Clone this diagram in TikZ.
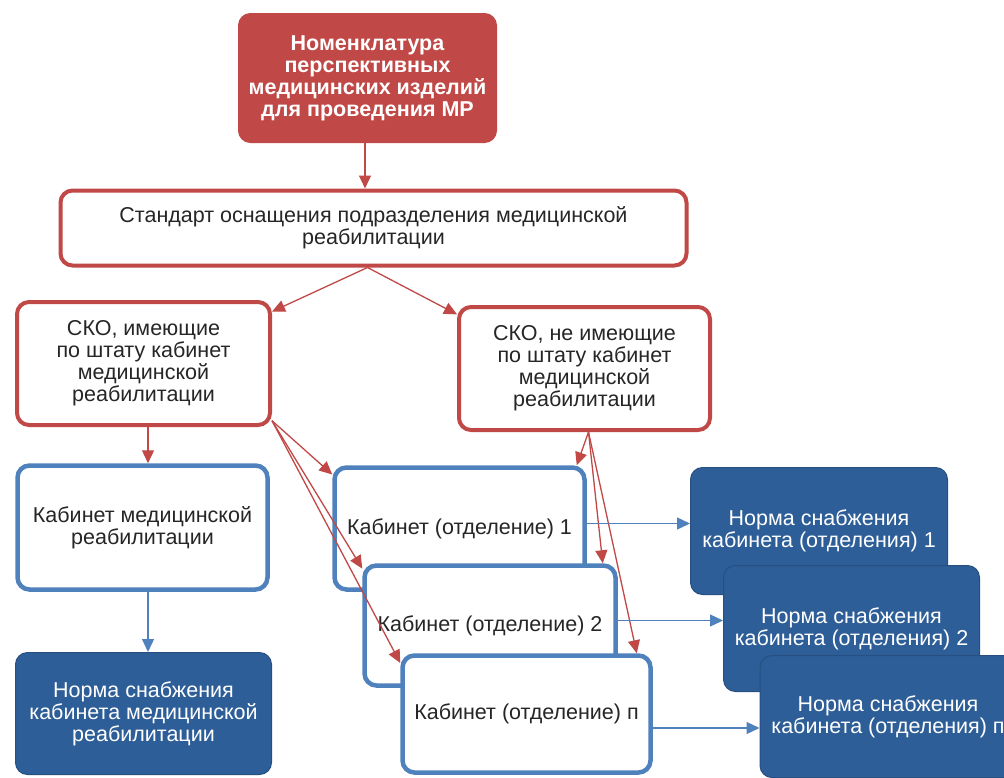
\documentclass[tikz,border=0pt]{standalone}
\usepackage{fontspec}
\setmainfont{Liberation Sans}
\usetikzlibrary{arrows.meta}
\definecolor{mrred}{RGB}{192,72,70}
\definecolor{mrblue}{RGB}{79,129,189}
\definecolor{mrnavy}{RGB}{46,94,152}
\definecolor{mrtext}{RGB}{38,38,38}
\begin{document}
\begin{tikzpicture}[
  x=1pt, y=-1pt,
  box/.style={rectangle,rounded corners=12pt,align=center,inner sep=3pt,
    font=\fontsize{21.5}{22}\selectfont,text=mrtext},
  redfill/.style={box,draw=mrred,fill=mrred,line width=1pt,text=white,
    font=\fontsize{21.5}{22}\selectfont\bfseries},
  redbox/.style={box,draw=mrred,fill=white,line width=4pt},
  bluebox/.style={box,draw=mrblue,fill=white,line width=4.5pt},
  navybox/.style={box,draw=mrnavy!85!black,fill=mrnavy,line width=1pt,text=white},
  redarr/.style={draw=mrred,line width=1.3pt,-{Triangle[length=13pt,width=12pt]}},
  bluearr/.style={draw=mrblue,line width=1.3pt,-{Triangle[length=13pt,width=12pt]}}
]
  \clip (0,0) rectangle (1004,777);

  \node[redfill,minimum width=258pt,minimum height=129pt] (nom) at (367.5,78)
    {Номенклатура\\перспективных\\медицинских изделий\\для проведения МР};
  \node[redbox,minimum width=626pt,minimum height=75pt] (std) at (373.5,228)
    {Стандарт оснащения подразделения медицинской\\реабилитации};
  \node[redbox,minimum width=253pt,minimum height=123pt] (skoA) at (143.5,363.5)
    {СКО, имеющие\\по штату кабинет\\медицинской\\реабилитации};
  \node[redbox,minimum width=251pt,minimum height=123pt] (skoB) at (584.5,368.5)
    {СКО, не имеющие\\по штату кабинет\\медицинской\\реабилитации};

  \node[bluebox,minimum width=250pt,minimum height=124pt] (kabM) at (142.5,527.5)
    {Кабинет медицинской\\реабилитации};
  \node[navybox,minimum width=256pt,minimum height=122pt] (normM) at (143.5,713.5)
    {Норма снабжения\\кабинета медицинской\\реабилитации};

  \node[bluebox,minimum width=250pt,minimum height=122pt] (kab1) at (459.5,528.5) {Кабинет (отделение) 1};
  \node[bluebox,minimum width=251pt,minimum height=120pt] (kab2) at (490,625.5) {Кабинет (отделение) 2};
  \node[bluebox,minimum width=248pt,minimum height=117pt] (kabN) at (526.5,714) {Кабинет (отделение) п};

  \node[navybox,minimum width=257pt,minimum height=127pt] (norm1) at (819,531)
    {Норма снабжения\\кабинета (отделения) 1};
  \node[navybox,minimum width=256pt,minimum height=126pt] (norm2) at (851.5,628.5)
    {Норма снабжения\\кабинета (отделения) 2};
  \node[navybox,minimum width=256pt,minimum height=122pt] (normN) at (888,716.5)
    {Норма снабжения\\кабинета (отделения) п};

  \draw[redarr] ([xshift=-2.5pt]nom.south) -- ([xshift=-2.5pt]nom.south |- std.north);
  \draw[redarr] ([xshift=-6pt]std.south) -- (skoA.22);
  \draw[redarr] ([xshift=-6pt]std.south) -- (skoB.157);
  \draw[redarr] ([xshift=4.5pt]skoA.south) -- ([xshift=4.5pt]skoA.south |- kabM.north);
  \draw[bluearr] ([xshift=5.5pt]kabM.south) -- ([xshift=5.5pt]kabM.south |- normM.north);

  \coordinate (skoAout) at (skoA.-24);
  \coordinate (skoBout) at ([xshift=4pt]skoB.south);
  \foreach \k/\a in {kab1/157,kab2/156,kabN/158}
    \draw[redarr] (skoAout) -- (\k.\a);
  \foreach \k/\s in {kab1/-10,kab2/-15,kabN/-16}
    \draw[redarr] (skoBout) -- ([xshift=\s pt]\k.north east);

  \foreach \k/\n/\d in {kab1/norm1/5,kab2/norm2/5,kabN/normN/-14}
    \draw[bluearr] ([yshift=\d pt]\k.east) -- ([yshift=\d pt]\k.east -| \n.west);
\end{tikzpicture}
\end{document}
